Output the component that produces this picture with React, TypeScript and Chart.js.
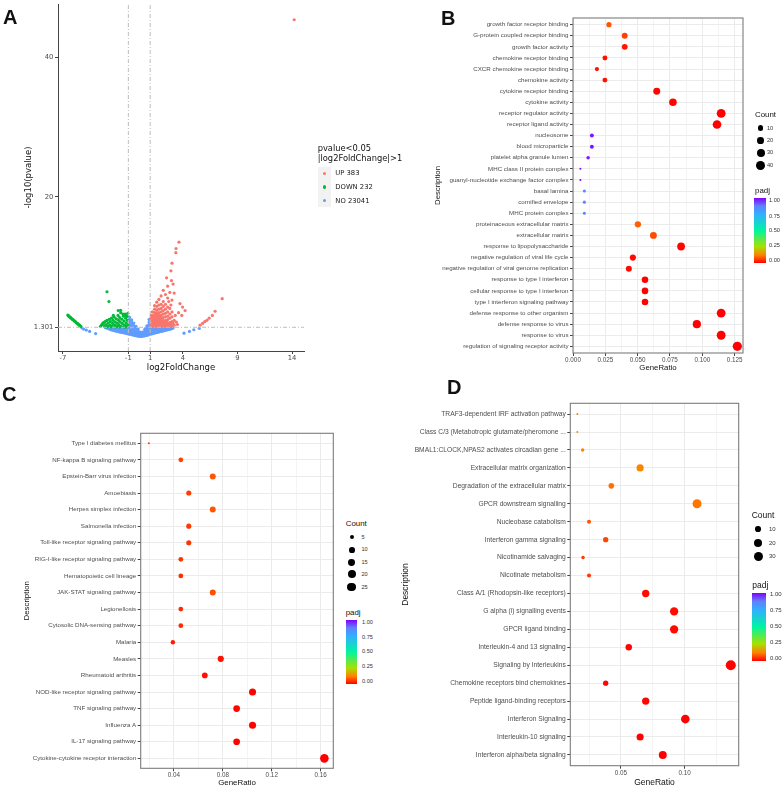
import React, { useEffect, useRef } from "react";
import { Chart, registerables } from "chart.js";

Chart.register(...registerables);

const SANS = "'Liberation Sans', Arial, sans-serif";
const DEJAVU = "'DejaVu Sans', sans-serif";

// ---------------- Panel A: volcano ----------------
const volcanoXTicks = [-7, -1, 1, 4, 9, 14];
const volcanoYTicks = [1.301, 20, 40];
const volcanoGroups = ["UP 383", "DOWN 232", "NO 23041"];
const volcanoColors = ["#F8766D", "#00BA38", "#619CFF"];

const upPoints: number[][] = [
  [1.05, 1.4], [1.05, 1.8], [1.05, 2.2], [1.05, 2.6], [1.1, 3.0],
  [1.2, 1.4], [1.2, 1.8], [1.2, 2.2], [1.2, 2.6], [1.2, 3.0], [1.2, 3.5],
  [1.3, 1.6], [1.3, 2.0], [1.3, 2.4], [1.3, 2.8],
  [1.4, 1.4], [1.4, 1.8], [1.4, 2.2], [1.4, 2.6], [1.4, 3.0], [1.4, 3.4], [1.4, 3.9], [1.4, 4.4],
  [1.5, 1.6], [1.5, 2.0], [1.5, 2.4], [1.5, 2.8], [1.5, 3.2],
  [1.6, 1.4], [1.6, 1.8], [1.6, 2.2], [1.6, 2.6], [1.6, 3.0], [1.6, 3.4], [1.6, 3.8], [1.6, 4.3], [1.6, 4.9],
  [1.7, 1.6], [1.7, 2.0], [1.7, 2.4], [1.7, 2.8], [1.7, 3.2],
  [1.8, 1.4], [1.8, 1.8], [1.8, 2.2], [1.8, 2.6], [1.8, 3.0], [1.8, 3.4], [1.8, 3.9], [1.8, 4.5], [1.8, 5.3],
  [1.9, 1.6], [1.9, 2.0], [1.9, 2.4], [1.9, 2.8],
  [2.0, 1.4], [2.0, 1.8], [2.0, 2.2], [2.0, 2.6], [2.0, 3.0], [2.0, 3.5], [2.0, 4.0], [2.0, 4.6], [2.0, 5.8],
  [2.1, 1.6], [2.1, 2.0], [2.1, 2.4],
  [2.2, 1.4], [2.2, 1.8], [2.2, 2.2], [2.2, 2.7], [2.2, 3.2], [2.2, 3.7], [2.2, 4.3], [2.2, 5.0], [2.2, 6.6],
  [2.3, 1.6], [2.3, 2.0],
  [2.4, 1.4], [2.4, 1.8], [2.4, 2.3], [2.4, 2.8], [2.4, 3.3], [2.4, 3.9], [2.4, 4.6], [2.4, 6.0],
  [2.5, 1.6], [2.5, 2.1],
  [2.6, 1.4], [2.6, 1.9], [2.6, 2.4], [2.6, 2.9], [2.6, 3.5], [2.6, 4.2], [2.6, 5.5], [2.6, 7.2],
  [2.7, 1.7], [2.9, 1.8], [3.1, 1.9],
  [2.8, 1.5], [2.8, 2.0], [2.8, 2.6], [2.8, 3.2], [2.8, 4.0], [2.8, 6.3],
  [3.0, 1.5], [3.0, 2.1], [3.0, 2.8], [3.0, 3.5], [3.0, 5.2], [3.0, 10.5],
  [3.2, 1.6], [3.2, 2.3], [3.2, 6.2],
  [2.5, 8.4], [2.9, 9.4], [2.95, 8.0], [3.1, 7.5], [3.37, 12.6], [3.35, 12.0], [3.64, 13.5],
  [3.73, 4.7], [3.97, 4.2], [4.2, 3.7], [3.9, 3.0], [3.6, 3.4], [3.4, 2.05], [3.5, 1.7],
  [3.3, 3.0], [2.7, 5.0], [2.9, 4.5],
  [5.57, 1.6], [5.8, 1.85], [6.0, 2.1], [6.2, 2.3], [6.4, 2.6], [6.7, 3.0], [6.95, 3.6], [7.6, 5.4],
  [14.2, 45.4],
];

const downPoints: number[][] = [
  [-6.55, 3.05], [-6.5, 2.95], [-6.45, 2.9], [-6.35, 2.75], [-6.3, 2.68], [-6.25, 2.6], [-6.15, 2.48],
  [-6.1, 2.4], [-6.05, 2.35], [-5.95, 2.22], [-5.9, 2.15], [-5.85, 2.08], [-5.75, 1.95], [-5.7, 1.88],
  [-5.65, 1.82], [-5.55, 1.68], [-5.5, 1.6], [-5.45, 1.55], [-5.35, 1.42],
  [-3.55, 1.45], [-3.45, 1.65], [-3.35, 1.85], [-3.25, 2.0], [-3.2, 1.5], [-3.1, 2.15], [-3.05, 1.7],
  [-2.95, 2.3], [-2.9, 1.45], [-2.85, 1.9], [-2.75, 2.45], [-2.7, 1.6], [-2.65, 2.1], [-2.55, 2.6],
  [-2.5, 1.45], [-2.45, 1.85], [-2.4, 2.3], [-2.38, 3.0], [-2.3, 2.75], [-2.25, 1.6], [-2.2, 2.05],
  [-2.1, 2.5], [-2.05, 1.4], [-2.0, 1.85], [-1.95, 3.0], [-1.9, 2.3], [-1.85, 1.6], [-1.8, 2.7],
  [-1.75, 2.05], [-1.7, 3.4], [-1.65, 1.45], [-1.6, 2.45], [-1.55, 1.85], [-1.5, 3.2], [-1.45, 2.9],
  [-1.4, 2.2], [-1.35, 1.6], [-1.3, 3.2], [-1.25, 2.6], [-1.22, 3.0], [-1.2, 1.95], [-1.15, 1.45],
  [-1.1, 2.85], [-1.1, 2.3], [-1.05, 1.7], [-1.05, 3.3], [-1.93, 3.71], [-1.71, 3.74],
  [-3.0, 1.35], [-2.6, 1.35], [-2.2, 1.35], [-1.8, 1.35], [-1.4, 1.35], [-1.2, 1.35],
  [-2.96, 6.4], [-2.78, 5.0],
];

const noPoints: number[][] = [
  [-5.25, 1.2], [-5.1, 1.05], [-4.85, 0.9], [-4.55, 0.7], [-4.0, 0.4],
  [-3.1, 1.25], [-2.98, 1.2], [-2.85, 1.12], [-2.85, 1.3], [-2.72, 1.05], [-2.72, 1.28],
  [-2.6, 0.95], [-2.6, 1.25], [-2.48, 0.9], [-2.48, 1.2], [-2.35, 0.85], [-2.35, 1.15],
  [-2.22, 0.8], [-2.22, 1.1], [-2.1, 0.75], [-2.1, 1.05], [-2.1, 1.3], [-1.98, 0.7], [-1.98, 1.0], [-1.98, 1.28],
  [-1.85, 0.65], [-1.85, 0.95], [-1.85, 1.25], [-1.72, 0.6], [-1.72, 0.9], [-1.72, 1.2],
  [-1.6, 0.55], [-1.6, 0.85], [-1.6, 1.15], [-1.48, 0.52], [-1.48, 0.82], [-1.48, 1.12],
  [-1.35, 0.48], [-1.35, 0.8], [-1.35, 1.1], [-1.35, 1.3], [-1.22, 0.44], [-1.22, 0.75], [-1.22, 1.05], [-1.22, 1.3],
  [-1.1, 0.4], [-1.1, 0.7], [-1.1, 1.0], [-1.1, 1.28], [-1.0, 0.36], [-1.0, 0.7], [-1.0, 1.05],
  [-0.9, 0.33], [-0.9, 0.65], [-0.9, 1.0], [-0.9, 1.35], [-0.9, 1.7], [-0.9, 2.05], [-0.9, 2.4], [-0.9, 2.75],
  [-0.8, 0.3], [-0.8, 0.8], [-0.8, 1.5], [-0.8, 2.2],
  [-0.7, 0.26], [-0.7, 0.6], [-0.7, 0.95], [-0.7, 1.3], [-0.7, 1.65], [-0.7, 2.0], [-0.7, 2.35],
  [-0.6, 0.22], [-0.6, 0.7], [-0.6, 1.4],
  [-0.5, 0.18], [-0.5, 0.5], [-0.5, 0.85], [-0.5, 1.2], [-0.5, 1.55], [-0.5, 1.9],
  [-0.4, 0.14], [-0.4, 0.6], [-0.4, 1.3],
  [-0.3, 0.1], [-0.3, 0.45], [-0.3, 0.8], [-0.3, 1.15], [-0.3, 1.45],
  [-0.2, 0.07], [-0.2, 0.55], [-0.1, 0.04], [-0.1, 0.38], [-0.1, 0.72], [-0.1, 1.05],
  [0.0, 0.02], [0.0, 0.45], [0.1, 0.0], [0.1, 0.3], [0.1, 0.6], [0.2, 0.0], [0.2, 0.4],
  [0.3, 0.02], [0.3, 0.35], [0.3, 0.62], [0.4, 0.05], [0.4, 0.55],
  [0.5, 0.08], [0.5, 0.4], [0.5, 0.72], [0.5, 1.0], [0.6, 0.12], [0.6, 0.65], [0.6, 1.2],
  [0.7, 0.15], [0.7, 0.5], [0.7, 0.85], [0.7, 1.2], [0.7, 1.5], [0.8, 0.2], [0.8, 0.75], [0.8, 1.45],
  [0.9, 0.25], [0.9, 0.6], [0.9, 0.95], [0.9, 1.3], [0.9, 1.65], [0.9, 2.0], [0.9, 2.4],
  [1.0, 0.3], [1.0, 0.8], [1.0, 1.2],
  [1.1, 0.35], [1.1, 0.68], [1.1, 1.0], [1.1, 1.28], [1.22, 0.4], [1.22, 0.9], [1.22, 1.2],
  [1.35, 0.45], [1.35, 0.78], [1.35, 1.1], [1.48, 0.5], [1.48, 0.95], [1.48, 1.25],
  [1.6, 0.55], [1.6, 0.88], [1.6, 1.2], [1.72, 0.6], [1.72, 1.05], [1.85, 0.65], [1.85, 0.98], [1.85, 1.28],
  [1.98, 0.7], [1.98, 1.15], [2.1, 0.75], [2.1, 1.05], [2.22, 0.8], [2.22, 1.2], [2.35, 0.85], [2.35, 1.15],
  [2.48, 0.9], [2.48, 1.25], [2.6, 0.95], [2.6, 1.25], [2.72, 1.0], [2.72, 1.25],
  [2.85, 1.05], [2.85, 1.28], [2.98, 1.1], [3.1, 1.2],
  [4.1, 0.45], [4.6, 0.7], [5.0, 0.95], [5.5, 1.15],
];

// ---------------- Panel B: GO ----------------
const goTerms = [
  "growth factor receptor binding", "G-protein coupled receptor binding", "growth factor activity",
  "chemokine receptor binding", "CXCR chemokine receptor binding", "chemokine activity",
  "cytokine receptor binding", "cytokine activity", "receptor regulator activity", "receptor ligand activity",
  "nucleosome", "blood microparticle", "platelet alpha granule lumen", "MHC class II protein complex",
  "guanyl-nucleotide exchange factor complex", "basal lamina", "cornified envelope", "MHC protein complex",
  "proteinaceous extracellular matrix", "extracellular matrix", "response to lipopolysaccharide",
  "negative regulation of viral life cycle", "negative regulation of viral genome replication",
  "response to type I interferon", "cellular response to type I interferon", "type I interferon signaling pathway",
  "defense response to other organism", "defense response to virus", "response to virus",
  "regulation of signaling receptor activity",
];
const goRatio = [0.0278, 0.04, 0.04, 0.0247, 0.0185, 0.0247, 0.0648, 0.0773, 0.1146, 0.1114, 0.0146, 0.0146, 0.0117, 0.0057, 0.0057, 0.0088, 0.0088, 0.0088, 0.0502, 0.0622, 0.0836, 0.0463, 0.0432, 0.0557, 0.0557, 0.0557, 0.1146, 0.0958, 0.1146, 0.1271];
const goCount = [10, 14, 14, 9, 6, 9, 22, 27, 40, 38, 5, 5, 4, 2, 2, 3, 3, 3, 17, 21, 29, 16, 15, 19, 19, 19, 40, 33, 40, 44];
const goPadj = [0.08, 0.06, 0.02, 0.015, 0.02, 0.015, 0.005, 0.005, 0.001, 0.001, 0.98, 0.98, 0.97, 0.99, 0.99, 0.86, 0.86, 0.86, 0.09, 0.07, 0.005, 0.01, 0.01, 0.002, 0.002, 0.002, 0.0005, 0.0005, 0.0005, 0.0005];
const goMajor = [0, 0.025, 0.05, 0.075, 0.1, 0.125];
const goMinor = [0.0125, 0.0375, 0.0625, 0.0875, 0.1125];
const goCountLegend = [10, 20, 30, 40];

// ---------------- Panel C: KEGG ----------------
const keggTerms = [
  "Type I diabetes mellitus", "NF-kappa B signaling pathway", "Epstein-Barr virus infection", "Amoebiasis",
  "Herpes simplex infection", "Salmonella infection", "Toll-like receptor signaling pathway",
  "RIG-I-like receptor signaling pathway", "Hematopoietic cell lineage", "JAK-STAT signaling pathway",
  "Legionellosis", "Cytosolic DNA-sensing pathway", "Malaria", "Measles", "Rheumatoid arthritis",
  "NOD-like receptor signaling pathway", "TNF signaling pathway", "Influenza A", "IL-17 signaling pathway",
  "Cytokine-cytokine receptor interaction",
];
const keggRatio = [0.0196, 0.0457, 0.0718, 0.0522, 0.0718, 0.0522, 0.0522, 0.0457, 0.0457, 0.0718, 0.0457, 0.0457, 0.0392, 0.0783, 0.0653, 0.1043, 0.0913, 0.1043, 0.0913, 0.163];
const keggCount = [3, 7, 11, 8, 11, 8, 8, 7, 7, 11, 7, 7, 6, 12, 10, 16, 14, 16, 14, 25];
const keggPadj = [0.06, 0.065, 0.08, 0.055, 0.08, 0.055, 0.05, 0.05, 0.045, 0.075, 0.04, 0.04, 0.025, 0.015, 0.015, 0.003, 0.003, 0.002, 0.002, 0.0001];
const keggMajor = [0.04, 0.08, 0.12, 0.16];
const keggMinor = [0.02, 0.06, 0.1, 0.14];
const keggCountLegend = [5, 10, 15, 20, 25];

// ---------------- Panel D: Reactome ----------------
const reactTerms = [
  "TRAF3-dependent IRF activation pathway", "Class C/3 (Metabotropic glutamate/pheromone ...",
  "BMAL1:CLOCK,NPAS2 activates circadian gene ...", "Extracellular matrix organization",
  "Degradation of the extracellular matrix", "GPCR downstream signalling", "Nucleobase catabolism",
  "Interferon gamma signaling", "Nicotinamide salvaging", "Nicotinate metabolism",
  "Class A/1 (Rhodopsin-like receptors)", "G alpha (i) signalling events", "GPCR ligand binding",
  "Interleukin-4 and 13 signaling", "Signaling by Interleukins", "Chemokine receptors bind chemokines",
  "Peptide ligand-binding receptors", "Interferon Signaling", "Interleukin-10 signaling",
  "Interferon alpha/beta signaling",
];
const reactRatio = [0.0157, 0.0157, 0.0199, 0.065, 0.0424, 0.1097, 0.0249, 0.038, 0.0202, 0.0249, 0.0694, 0.0917, 0.0917, 0.0561, 0.1362, 0.038, 0.0694, 0.1005, 0.065, 0.0828];
const reactCount = [4, 4, 5, 16, 10, 26, 6, 9, 5, 6, 17, 22, 22, 13, 33, 9, 17, 24, 16, 20];
const reactPadj = [0.14, 0.14, 0.13, 0.13, 0.105, 0.11, 0.08, 0.065, 0.055, 0.055, 0.01, 0.01, 0.008, 0.005, 0.001, 0.005, 0.005, 0.0005, 0.001, 0.0001];
const reactMajor = [0.05, 0.1];
const reactMinor = [0.025, 0.075, 0.125];
const reactCountLegend = [10, 20, 30];

const padjLegendTicks = ["1.00", "0.75", "0.50", "0.25", "0.00"];

// ---------------- helpers ----------------
const PADJ_STOPS: [number, number[]][] = [
  [0, [255, 0, 0]], [0.12, [255, 128, 0]], [0.25, [168, 224, 0]], [0.5, [0, 245, 160]],
  [0.75, [48, 176, 255]], [0.88, [96, 128, 255]], [1, [128, 0, 255]],
];
function padjColor(p: number) {
  for (let i = 1; i < PADJ_STOPS.length; i++) {
    const [p0, c0] = PADJ_STOPS[i - 1];
    const [p1, c1] = PADJ_STOPS[i];
    if (p <= p1) {
      const t = (p - p0) / (p1 - p0);
      const c = c0.map((v, k) => Math.round(v + (c1[k] - v) * t));
      return `rgb(${c.join(",")})`;
    }
  }
  return "rgb(128,0,255)";
}
const gradientCss = `linear-gradient(to top, ${PADJ_STOPS.map(([p, c]) => `rgb(${c.join(",")}) ${p * 100}%`).join(", ")})`;

function makeRadius(count: number[], rMax: number) {
  const lo = Math.min(...count);
  const hi = Math.max(...count);
  return (c: number) => 1 + (rMax - 1) * Math.sqrt(Math.max(0, c - lo) / (hi - lo));
}

const panelBorder = {
  id: "panelBorder",
  afterDatasetsDraw(chart: any) {
    const { ctx, chartArea } = chart;
    const { left, top, right, bottom } = chartArea;
    ctx.save();
    ctx.strokeStyle = "#7c7c7c";
    ctx.lineWidth = 1.1;
    ctx.strokeRect(left, top, right - left, bottom - top);
    ctx.restore();
  },
};

type Box = { left: number; top: number; width: number; height: number };
type Area = { left: number; top: number; right: number; bottom: number };

type DotProps = {
  terms: string[]; ratio: number[]; count: number[]; padj: number[];
  xMin: number; xMax: number; majors: number[]; minors: number[]; digits: number;
  box: Box; area: Area; yTitleX: number; xTitleY: number;
  labelSize: number; tickSize: number; titleSize: number; rMax: number;
};

function DotPlot(p: DotProps) {
  const ref = useRef<HTMLCanvasElement>(null);
  useEffect(() => {
    const n = p.terms.length;
    const rad = makeRadius(p.count, p.rMax);
    const isMajor = (v: number) => p.majors.some((m) => Math.abs(m - v) < 1e-9);
    const tickVals = [...p.majors, ...p.minors].sort((a, b) => a - b);
    const lh = p.titleSize * 1.2;
    const padL = 0;
    const yW = p.area.left - p.box.left;
    const padR = p.box.left + p.box.width - p.area.right;
    const padT = p.area.top - p.box.top;
    const xH = p.box.top + p.box.height - p.area.bottom;
    const chart = new Chart(ref.current as HTMLCanvasElement, {
      type: "scatter",
      data: {
        datasets: [
          {
            data: p.ratio.map((r, i) => ({ x: r, y: i })),
            pointRadius: p.count.map(rad),
            pointHoverRadius: p.count.map(rad),
            pointBackgroundColor: p.padj.map(padjColor),
            pointBorderWidth: 0,
            backgroundColor: p.padj.map(padjColor),
          } as any,
        ],
      },
      options: {
        animation: false,
        responsive: false,
        maintainAspectRatio: false,
        events: [],
        layout: { padding: { left: padL, right: padR, top: padT, bottom: 0 } },
        plugins: { legend: { display: false }, tooltip: { enabled: false } },
        scales: {
          x: {
            type: "linear",
            min: p.xMin,
            max: p.xMax,
            afterBuildTicks: (s: any) => { s.ticks = tickVals.map((v) => ({ value: v })); },
            afterFit: (s: any) => { s.height = xH; s.paddingLeft = 0; s.paddingRight = 0; },
            ticks: {
              autoSkip: false, maxRotation: 0, padding: 0.5,
              callback: (v: any) => (isMajor(Number(v)) ? Number(v).toFixed(p.digits) : ""),
              font: { family: SANS, size: p.tickSize }, color: "#4D4D4D",
            },
            grid: {
              color: (c: any) => (isMajor(c.tick.value) ? "#EBEBEB" : "#F4F4F4"),
              tickColor: (c: any) => (isMajor(c.tick.value) ? "#444" : "rgba(0,0,0,0)"),
              tickLength: 3,
            },
            border: { display: false },
            title: {
              display: true, text: "GeneRatio", color: "#111",
              font: { family: SANS, size: p.titleSize },
              padding: { top: 0, bottom: p.box.top + p.box.height - p.xTitleY - lh / 2 },
            },
          },
          y: {
            type: "linear",
            reverse: true,
            min: -0.6,
            max: n - 0.4,
            afterBuildTicks: (s: any) => { s.ticks = p.terms.map((_, i) => ({ value: i })); },
            afterFit: (s: any) => { s.width = yW; s.paddingTop = 0; s.paddingBottom = 0; },
            ticks: {
              autoSkip: false, padding: 1.5,
              callback: (v: any) => p.terms[Number(v)] ?? "",
              font: { family: SANS, size: p.labelSize }, color: "#4D4D4D",
            },
            grid: { color: "#EBEBEB", tickColor: "#444", tickLength: 3 },
            border: { display: false },
            title: {
              display: true, text: "Description", color: "#111",
              font: { family: SANS, size: p.titleSize },
              padding: { top: p.yTitleX - p.box.left - lh / 2, bottom: 0 },
            },
          },
        },
      } as any,
      plugins: [panelBorder],
    });
    return () => chart.destroy();
  }, []);
  return (
    <canvas
      ref={ref}
      width={p.box.width}
      height={p.box.height}
      style={{ position: "absolute", left: p.box.left, top: p.box.top }}
    />
  );
}

function Volcano() {
  const ref = useRef<HTMLCanvasElement>(null);
  useEffect(() => {
    const box = { left: 0, top: 0, width: 318, height: 380 };
    const area = { left: 58, top: 0, right: 304, bottom: 351 };
    const xMin = -7.45, xMax = 15.1, yMin = -2.1, yMax = 47.66;
    const titleSize = 8.5;
    const lh = titleSize * 1.2;
    const dash = [4, 2, 1, 2];
    const lineStyle = { type: "line", borderColor: "#BDBDBD", borderWidth: 1, borderDash: dash, pointRadius: 0, fill: false };
    const chart = new Chart(ref.current as HTMLCanvasElement, {
      type: "scatter",
      data: {
        datasets: [
          { ...lineStyle, data: [{ x: -1, y: yMin }, { x: -1, y: yMax }] } as any,
          { ...lineStyle, data: [{ x: 1, y: yMin }, { x: 1, y: yMax }] } as any,
          { ...lineStyle, data: [{ x: xMin, y: 1.301 }, { x: xMax, y: 1.301 }] } as any,
          { label: volcanoGroups[0], data: upPoints.map(([x, y]) => ({ x, y })), pointBackgroundColor: volcanoColors[0], backgroundColor: volcanoColors[0], pointRadius: 1.6, pointBorderWidth: 0 } as any,
          { label: volcanoGroups[1], data: downPoints.map(([x, y]) => ({ x, y })), pointBackgroundColor: volcanoColors[1], backgroundColor: volcanoColors[1], pointRadius: 1.6, pointBorderWidth: 0 } as any,
          { label: volcanoGroups[2], data: noPoints.map(([x, y]) => ({ x, y })), pointBackgroundColor: volcanoColors[2], backgroundColor: volcanoColors[2], pointRadius: 1.6, pointBorderWidth: 0 } as any,
        ],
      },
      options: {
        animation: false,
        responsive: false,
        maintainAspectRatio: false,
        events: [],
        layout: { padding: { left: 0, right: box.width - area.right, top: area.top, bottom: 0 } },
        plugins: { legend: { display: false }, tooltip: { enabled: false } },
        scales: {
          x: {
            type: "linear", min: xMin, max: xMax,
            afterBuildTicks: (s: any) => { s.ticks = volcanoXTicks.map((v) => ({ value: v })); },
            afterFit: (s: any) => { s.height = box.height - area.bottom; s.paddingLeft = 0; s.paddingRight = 0; },
            ticks: { autoSkip: false, maxRotation: 0, padding: 0, callback: (v: any) => String(v), font: { family: DEJAVU, size: 6.8 }, color: "#4D4D4D" },
            grid: { display: true, drawOnChartArea: false, drawTicks: true, tickLength: 3, tickColor: "#444" },
            border: { display: true, color: "#444", width: 1 },
            title: { display: true, text: "log2FoldChange", color: "#111", font: { family: DEJAVU, size: titleSize }, padding: { top: 0, bottom: box.height - 367.7 - lh / 2 } },
          },
          y: {
            type: "linear", min: yMin, max: yMax,
            afterBuildTicks: (s: any) => { s.ticks = volcanoYTicks.map((v) => ({ value: v })); },
            afterFit: (s: any) => { s.width = area.left; s.paddingTop = 0; s.paddingBottom = 0; },
            ticks: { autoSkip: false, padding: 1.7, callback: (v: any) => String(v), font: { family: DEJAVU, size: 6.8 }, color: "#4D4D4D" },
            grid: { display: true, drawOnChartArea: false, drawTicks: true, tickLength: 3, tickColor: "#444" },
            border: { display: true, color: "#444", width: 1 },
            title: { display: true, text: "-log10(pvalue)", color: "#111", font: { family: DEJAVU, size: titleSize }, padding: { top: 28.3 - lh / 2, bottom: 0 } },
          },
        },
      } as any,
    });
    return () => chart.destroy();
  }, []);
  return <canvas ref={ref} width={318} height={380} style={{ position: "absolute", left: 0, top: 0 }} />;
}

function Txt(props: { x: number; cy: number; size: number; family?: string; color?: string; bold?: boolean; children: any }) {
  const { x, cy, size, family = SANS, color = "#111", bold = false, children } = props;
  return (
    <div
      style={{
        position: "absolute", left: x, top: cy - size * 0.6, fontSize: size, lineHeight: `${size * 1.2}px`,
        fontFamily: family, color, whiteSpace: "nowrap", fontWeight: bold ? "bold" : "normal",
      }}
    >
      {children}
    </div>
  );
}

function CountLegend(props: { x: number; titleY: number; dotX: number; dotYs: number[]; labelX: number; values: number[]; count: number[]; rMax: number; titleSize: number; labelSize: number }) {
  const rad = makeRadius(props.count, props.rMax);
  return (
    <>
      <Txt x={props.x} cy={props.titleY} size={props.titleSize}>Count</Txt>
      {props.values.map((v, i) => {
        const r = rad(v);
        return (
          <React.Fragment key={v}>
            <div style={{ position: "absolute", left: props.dotX - r, top: props.dotYs[i] - r, width: 2 * r, height: 2 * r, borderRadius: "50%", background: "#000" }} />
            <Txt x={props.labelX} cy={props.dotYs[i]} size={props.labelSize} color="#333">{v}</Txt>
          </React.Fragment>
        );
      })}
    </>
  );
}

function PadjLegend(props: { x: number; titleY: number; barLeft: number; barW: number; barTop: number; barBottom: number; labelX: number; labelYs: number[]; titleSize: number; labelSize: number }) {
  return (
    <>
      <Txt x={props.x} cy={props.titleY} size={props.titleSize}>padj</Txt>
      <div style={{ position: "absolute", left: props.barLeft, top: props.barTop, width: props.barW, height: props.barBottom - props.barTop, background: gradientCss }} />
      {padjLegendTicks.map((t, i) => (
        <Txt key={t} x={props.labelX} cy={props.labelYs[i]} size={props.labelSize} color="#333">{t}</Txt>
      ))}
    </>
  );
}

export default function App() {
  return (
    <div style={{ position: "absolute", left: 0, top: 0, width: 784, height: 788, overflow: "hidden", background: "#fff" }}>
      <Volcano />
      <DotPlot
        terms={goTerms} ratio={goRatio} count={goCount} padj={goPadj}
        xMin={0} xMax={0.1315} majors={goMajor} minors={goMinor} digits={3}
        box={{ left: 380, top: 0, width: 404, height: 385 }}
        area={{ left: 573, top: 18, right: 743, bottom: 353 }}
        yTitleX={437.5} xTitleY={368.3} labelSize={6.2} tickSize={6.3} titleSize={7.8} rMax={4.6}
      />
      <DotPlot
        terms={keggTerms} ratio={keggRatio} count={keggCount} padj={keggPadj}
        xMin={0.0129} xMax={0.1703} majors={keggMajor} minors={keggMinor} digits={2}
        box={{ left: 0, top: 395, width: 340, height: 393 }}
        area={{ left: 140.7, top: 433.3, right: 333.3, bottom: 768.3 }}
        yTitleX={26.5} xTitleY={783.3} labelSize={6.2} tickSize={6.3} titleSize={7.9} rMax={4.3}
      />
      <DotPlot
        terms={reactTerms} ratio={reactRatio} count={reactCount} padj={reactPadj}
        xMin={0.0102} xMax={0.1424} majors={reactMajor} minors={reactMinor} digits={2}
        box={{ left: 390, top: 398, width: 394, height: 390 }}
        area={{ left: 570.3, top: 403.3, right: 738.7, bottom: 765.7 }}
        yTitleX={406} xTitleY={782.7} labelSize={6.7} tickSize={6.3} titleSize={8.5} rMax={5}
      />

      {/* Panel A legend */}
      <Txt x={317.7} cy={149.3} size={8.3} family={DEJAVU}>pvalue&lt;0.05</Txt>
      <Txt x={317.7} cy={158.7} size={8.3} family={DEJAVU}>|log2FoldChange|&gt;1</Txt>
      {volcanoGroups.map((g, i) => {
        const cy = [173.3, 187, 200.7][i];
        return (
          <React.Fragment key={g}>
            <div style={{ position: "absolute", left: 318, top: cy - 6.7, width: 13, height: 13.4, background: "#F2F2F2" }} />
            <div style={{ position: "absolute", left: 324.5 - 1.6, top: cy - 1.6, width: 3.2, height: 3.2, borderRadius: "50%", background: volcanoColors[i] }} />
            <Txt x={335.3} cy={cy} size={6.8} family={DEJAVU} color="#222">{g}</Txt>
          </React.Fragment>
        );
      })}

      {/* Panel B legends */}
      <CountLegend x={755} titleY={114.3} dotX={760.7} dotYs={[128, 140.5, 152.7, 165.2]} labelX={767} values={goCountLegend} count={goCount} rMax={4.6} titleSize={7.9} labelSize={5.6} />
      <PadjLegend x={755} titleY={190.5} barLeft={754.3} barW={11.5} barTop={198} barBottom={262.5} labelX={769} labelYs={[200.7, 216, 230.5, 245, 260]} titleSize={7.9} labelSize={5.6} />

      {/* Panel C legends */}
      <CountLegend x={345.7} titleY={523.7} dotX={351.7} dotYs={[537.3, 549.7, 562.3, 574.3, 587]} labelX={361.5} values={keggCountLegend} count={keggCount} rMax={4.3} titleSize={7.9} labelSize={5.6} />
      <PadjLegend x={345.7} titleY={612.7} barLeft={345.7} barW={11.6} barTop={619.5} barBottom={683.5} labelX={362} labelYs={[622, 637, 651.7, 666.3, 681]} titleSize={7.9} labelSize={5.6} />

      {/* Panel D legends */}
      <CountLegend x={751.7} titleY={515} dotX={758.3} dotYs={[529.3, 543.3, 556.3]} labelX={769} values={reactCountLegend} count={reactCount} rMax={5} titleSize={8.5} labelSize={6} />
      <PadjLegend x={752.3} titleY={585} barLeft={752.3} barW={13.4} barTop={592.5} barBottom={661} labelX={770} labelYs={[595, 610.7, 626.7, 642.7, 658.3]} titleSize={8.5} labelSize={6} />

      {/* Panel letters */}
      <Txt x={3} cy={17} size={20} bold>A</Txt>
      <Txt x={441} cy={17.5} size={20} bold>B</Txt>
      <Txt x={2} cy={394} size={20} bold>C</Txt>
      <Txt x={447} cy={387} size={20} bold>D</Txt>
    </div>
  );
}
